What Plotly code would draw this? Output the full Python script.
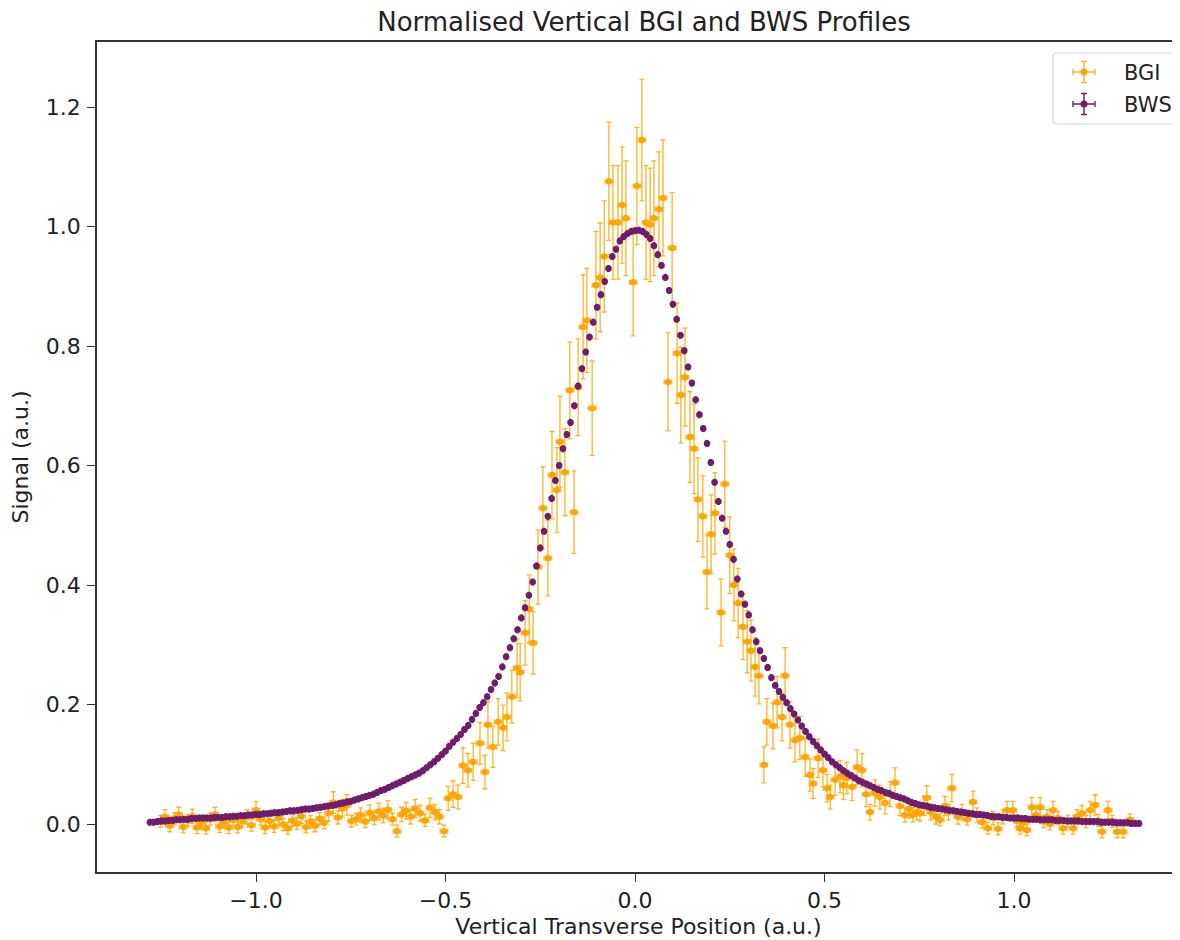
import plotly.graph_objects as go

# ---------------- data ----------------
BWS_X = [
    -1.28, -1.27, -1.26, -1.25, -1.24, -1.23, -1.22, -1.21, -1.20, -1.19,
    -1.18, -1.17, -1.16, -1.15, -1.14, -1.13, -1.12, -1.11, -1.10, -1.09,
    -1.08, -1.07, -1.06, -1.05, -1.04, -1.03, -1.02, -1.01, -1.00, -0.99,
    -0.98, -0.97, -0.96, -0.95, -0.94, -0.93, -0.92, -0.91, -0.90, -0.89,
    -0.88, -0.87, -0.86, -0.85, -0.84, -0.83, -0.82, -0.81, -0.80, -0.79,
    -0.78, -0.77, -0.76, -0.75, -0.74, -0.73, -0.72, -0.71, -0.70, -0.69,
    -0.68, -0.67, -0.66, -0.65, -0.64, -0.63, -0.62, -0.61, -0.60, -0.59,
    -0.58, -0.57, -0.56, -0.55, -0.54, -0.53, -0.52, -0.51, -0.50, -0.49,
    -0.48, -0.47, -0.46, -0.45, -0.44, -0.43, -0.42, -0.41, -0.40, -0.39,
    -0.38, -0.37, -0.36, -0.35, -0.34, -0.33, -0.32, -0.31, -0.30, -0.29,
    -0.28, -0.27, -0.26, -0.25, -0.24, -0.23, -0.22, -0.21, -0.20, -0.19,
    -0.18, -0.17, -0.16, -0.15, -0.14, -0.13, -0.12, -0.11, -0.10, -0.09,
    -0.08, -0.07, -0.06, -0.05, -0.04, -0.03, -0.02, -0.01,
    0.00, 0.01, 0.02, 0.03, 0.04, 0.05, 0.06, 0.07, 0.08, 0.09,
    0.10, 0.11, 0.12, 0.13, 0.14, 0.15, 0.16, 0.17, 0.18, 0.19,
    0.20, 0.21, 0.22, 0.23, 0.24, 0.25, 0.26, 0.27, 0.28, 0.29,
    0.30, 0.31, 0.32, 0.33, 0.34, 0.35, 0.36, 0.37, 0.38, 0.39,
    0.40, 0.41, 0.42, 0.43, 0.44, 0.45, 0.46, 0.47, 0.48, 0.49,
    0.50, 0.51, 0.52, 0.53, 0.54, 0.55, 0.56, 0.57, 0.58, 0.59,
    0.60, 0.61, 0.62, 0.63, 0.64, 0.65, 0.66, 0.67, 0.68, 0.69,
    0.70, 0.71, 0.72, 0.73, 0.74, 0.75, 0.76, 0.77, 0.78, 0.79,
    0.80, 0.81, 0.82, 0.83, 0.84, 0.85, 0.86, 0.87, 0.88, 0.89,
    0.90, 0.91, 0.92, 0.93, 0.94, 0.95, 0.96, 0.97, 0.98, 0.99,
    1.00, 1.01, 1.02, 1.03, 1.04, 1.05, 1.06, 1.07, 1.08, 1.09,
    1.10, 1.11, 1.12, 1.13, 1.14, 1.15, 1.16, 1.17, 1.18, 1.19,
    1.20, 1.21, 1.22, 1.23, 1.24, 1.25, 1.26, 1.27, 1.28, 1.29,
    1.30, 1.31, 1.32, 1.33,
]
BWS_Y = [
    0.003, 0.003, 0.004, 0.005, 0.005, 0.006, 0.006, 0.007, 0.007, 0.008,
    0.008, 0.009, 0.009, 0.010, 0.010, 0.010, 0.010, 0.011, 0.011, 0.011,
    0.012, 0.012, 0.013, 0.013, 0.014, 0.014, 0.015, 0.015, 0.016, 0.016,
    0.017, 0.017, 0.018, 0.019, 0.019, 0.020, 0.021, 0.022, 0.022, 0.023,
    0.024, 0.025, 0.025, 0.026, 0.027, 0.028, 0.029, 0.030, 0.031, 0.032,
    0.034, 0.035, 0.037, 0.038, 0.040, 0.042, 0.044, 0.046, 0.048, 0.050,
    0.053, 0.056, 0.058, 0.061, 0.064, 0.067, 0.070, 0.073, 0.076, 0.079,
    0.082, 0.085, 0.089, 0.094, 0.099, 0.104, 0.110, 0.116, 0.122, 0.130,
    0.137, 0.143, 0.150, 0.158, 0.165, 0.175, 0.185, 0.195, 0.203, 0.213,
    0.225, 0.236, 0.247, 0.263, 0.280, 0.295, 0.310, 0.325, 0.345, 0.362,
    0.383, 0.405, 0.432, 0.462, 0.490, 0.515, 0.545, 0.575, 0.600, 0.628,
    0.652, 0.672, 0.700, 0.733, 0.762, 0.790, 0.815, 0.840, 0.865, 0.886,
    0.908, 0.930, 0.950, 0.962, 0.976, 0.983, 0.988, 0.992,
    0.993, 0.994, 0.992, 0.987, 0.980, 0.968, 0.953, 0.935, 0.915, 0.893,
    0.870, 0.845, 0.818, 0.792, 0.765, 0.738, 0.710, 0.685, 0.662, 0.637,
    0.605, 0.572, 0.540, 0.512, 0.490, 0.468, 0.443, 0.410, 0.385, 0.368,
    0.350, 0.325, 0.305, 0.290, 0.277, 0.262, 0.245, 0.232, 0.222, 0.212,
    0.203, 0.193, 0.184, 0.174, 0.164, 0.155, 0.146, 0.138, 0.131, 0.124,
    0.117, 0.111, 0.104, 0.099, 0.094, 0.089, 0.085, 0.081, 0.077, 0.073,
    0.070, 0.067, 0.064, 0.061, 0.058, 0.056, 0.053, 0.051, 0.048, 0.046,
    0.044, 0.042, 0.039, 0.036, 0.034, 0.032, 0.031, 0.030, 0.028, 0.027,
    0.026, 0.025, 0.024, 0.023, 0.022, 0.021, 0.020, 0.019, 0.018, 0.017,
    0.016, 0.016, 0.015, 0.014, 0.013, 0.012, 0.012, 0.011, 0.011, 0.010,
    0.010, 0.010, 0.009, 0.009, 0.008, 0.008, 0.008, 0.007, 0.007, 0.007,
    0.007, 0.006, 0.006, 0.006, 0.005, 0.005, 0.005, 0.005, 0.004, 0.004,
    0.004, 0.004, 0.004, 0.003, 0.003, 0.003, 0.003, 0.002, 0.002, 0.002,
    0.002, 0.001, 0.001, 0.001,
]
BWS_YERR = 0.005
BWS_XERR = 0.006

BGI_X = [
    -1.252, -1.240, -1.228, -1.216, -1.204, -1.192, -1.180, -1.168, -1.156, -1.144,
    -1.132, -1.120, -1.108, -1.096, -1.084, -1.072, -1.060, -1.048, -1.036, -1.024,
    -1.012, -1.000, -0.988, -0.976, -0.964, -0.952, -0.940, -0.928, -0.916, -0.904,
    -0.892, -0.880, -0.868, -0.856, -0.844, -0.832, -0.820, -0.808, -0.796, -0.784,
    -0.772, -0.760, -0.748, -0.736, -0.724, -0.712, -0.700, -0.688, -0.676, -0.664,
    -0.652, -0.640, -0.628, -0.616, -0.604, -0.592, -0.580, -0.567, -0.554, -0.541,
    -0.528, -0.516, -0.504,
    -0.493, -0.480, -0.467, -0.454, -0.441, -0.427, -0.409, -0.396, -0.388, -0.375,
    -0.361, -0.348, -0.338, -0.325, -0.311, -0.303, -0.290, -0.279, -0.269, -0.256,
    -0.243, -0.230, -0.219, -0.206, -0.198, -0.185, -0.172, -0.161, -0.150, -0.137,
    -0.127, -0.113, -0.103, -0.092, -0.081, -0.069, -0.058, -0.045, -0.034, -0.024,
    -0.005,
    0.005, 0.018, 0.029, 0.040, 0.050, 0.063, 0.074, 0.087, 0.098, 0.111,
    0.121, 0.132, 0.145, 0.156, 0.166, 0.179, 0.190, 0.201, 0.211, 0.227,
    0.237, 0.250, 0.261, 0.272, 0.285, 0.296, 0.306, 0.317, 0.327, 0.340,
    0.348, 0.364, 0.375, 0.388, 0.396, 0.409, 0.422, 0.435, 0.449, 0.462,
    0.470, 0.483, 0.496,
    0.507, 0.515, 0.528, 0.541, 0.550, 0.559, 0.573, 0.586, 0.599, 0.610,
    0.620, 0.633, 0.646, 0.660, 0.673, 0.686, 0.699, 0.712, 0.723, 0.733,
    0.744, 0.752, 0.763, 0.770, 0.780, 0.794, 0.805, 0.818, 0.827, 0.836,
    0.852, 0.863, 0.876, 0.892, 0.902, 0.916, 0.931, 0.945, 0.958, 0.971,
    0.982, 0.997, 1.008, 1.016, 1.025, 1.034, 1.047, 1.058, 1.069, 1.078,
    1.087, 1.095, 1.103, 1.116, 1.129, 1.142, 1.156, 1.166, 1.179, 1.190,
    1.201, 1.214, 1.223, 1.232, 1.248, 1.259, 1.272, 1.288, 1.306,
]
BGI_Y = [
    0.004, 0.012, -0.003, 0.009, 0.016, -0.005, 0.006, 0.013, -0.006, 0.002,
    -0.007, 0.008, 0.016, -0.004, 0.003, -0.006, 0.007, -0.005, 0.004, 0.012,
    -0.002, 0.023, 0.008, -0.006, 0.005, -0.004, 0.010, -0.001, -0.007, 0.006,
    0.001, 0.013, -0.005, 0.004, -0.003, 0.009, 0.002, 0.018, 0.036, 0.011,
    0.026, 0.032, 0.005, 0.008, 0.015, 0.004, 0.019, 0.010, 0.021, 0.014,
    0.024, 0.008, -0.012, 0.016, 0.022, 0.012, 0.026, 0.018, 0.006, 0.027,
    0.020, 0.012, -0.012,
    0.043, 0.050, 0.045, 0.098, 0.090, 0.104, 0.135, 0.087, 0.166, 0.129,
    0.171, 0.161, 0.179, 0.213, 0.261, 0.254, 0.320, 0.360, 0.303, 0.430,
    0.529, 0.445, 0.584, 0.559, 0.640, 0.589, 0.726, 0.522, 0.731, 0.832,
    0.843, 0.696, 0.902, 0.915, 0.950, 1.076, 1.007, 1.007, 1.036, 1.014,
    0.907,
    1.068, 1.145, 1.007, 1.003, 1.014, 1.029, 1.048, 0.740, 0.964, 0.788,
    0.718, 0.748, 0.648, 0.628, 0.543, 0.515, 0.422, 0.485, 0.520, 0.354,
    0.569, 0.450, 0.400, 0.370, 0.330, 0.305, 0.290, 0.263, 0.248, 0.099,
    0.171, 0.164, 0.204, 0.179, 0.248, 0.166, 0.140, 0.144, 0.112, 0.082,
    0.068, 0.110, 0.090,
    0.060, 0.045, 0.074, 0.079, 0.065, 0.077, 0.062, 0.095, 0.090, 0.050,
    0.020, 0.052, 0.045, 0.035, 0.050, 0.069, 0.030, 0.015, 0.025, 0.015,
    0.020, 0.018, 0.030, 0.044, 0.020, 0.012, 0.007, 0.030, 0.020, 0.060,
    0.012, 0.020, 0.008, 0.037, 0.015, 0.003, -0.007, 0.010, -0.008, 0.012,
    0.023, 0.023, 0.005, -0.007, 0.002, -0.010, 0.028, 0.015, 0.028, 0.004,
    0.012, 0.000, 0.023, 0.010, -0.007, 0.005, -0.007, 0.012, 0.018, 0.004,
    0.023, 0.032, 0.006, -0.013, 0.023, 0.005, -0.013, -0.013, 0.007,
]
BGI_YERR = [
    0.010, 0.012, 0.010, 0.010, 0.012, 0.010, 0.010, 0.012, 0.010, 0.010,
    0.010, 0.010, 0.012, 0.010, 0.010, 0.010, 0.010, 0.010, 0.010, 0.012,
    0.010, 0.015, 0.010, 0.010, 0.010, 0.010, 0.011, 0.010, 0.010, 0.010,
    0.010, 0.012, 0.010, 0.010, 0.010, 0.010, 0.010, 0.013, 0.018, 0.011,
    0.015, 0.017, 0.010, 0.010, 0.012, 0.010, 0.013, 0.011, 0.014, 0.012,
    0.015, 0.010, 0.010, 0.012, 0.014, 0.012, 0.015, 0.013, 0.010, 0.016,
    0.013, 0.012, 0.010,
    0.020, 0.022, 0.020, 0.030, 0.028, 0.031, 0.035, 0.028, 0.039, 0.034,
    0.039, 0.038, 0.040, 0.044, 0.049, 0.048, 0.054, 0.057, 0.052, 0.062,
    0.069, 0.063, 0.073, 0.071, 0.076, 0.073, 0.081, 0.069, 0.081, 0.087,
    0.087, 0.079, 0.090, 0.091, 0.093, 0.099, 0.095, 0.095, 0.097, 0.096,
    0.090,
    0.098, 0.102, 0.095, 0.095, 0.096, 0.096, 0.097, 0.082, 0.093, 0.084,
    0.080, 0.082, 0.076, 0.075, 0.070, 0.068, 0.062, 0.066, 0.068, 0.056,
    0.072, 0.064, 0.060, 0.058, 0.055, 0.052, 0.051, 0.049, 0.047, 0.030,
    0.039, 0.038, 0.043, 0.040, 0.047, 0.039, 0.036, 0.036, 0.032, 0.027,
    0.025, 0.032, 0.028,
    0.023, 0.020, 0.026, 0.027, 0.024, 0.026, 0.023, 0.029, 0.028, 0.021,
    0.013, 0.022, 0.020, 0.018, 0.021, 0.025, 0.016, 0.012, 0.015, 0.012,
    0.013, 0.013, 0.016, 0.020, 0.013, 0.012, 0.010, 0.016, 0.013, 0.023,
    0.012, 0.013, 0.010, 0.018, 0.012, 0.010, 0.010, 0.011, 0.010, 0.012,
    0.015, 0.015, 0.010, 0.010, 0.010, 0.010, 0.016, 0.012, 0.016, 0.010,
    0.012, 0.010, 0.015, 0.011, 0.010, 0.010, 0.010, 0.012, 0.013, 0.010,
    0.015, 0.017, 0.010, 0.010, 0.015, 0.010, 0.010, 0.010, 0.010,
]
BGI_XERR = 0.010

SERIES_NAMES = ["BGI", "BWS"]
X_TICKS = [-1.0, -0.5, 0.0, 0.5, 1.0]
X_TICK_TEXT = ["\u22121.0", "\u22120.5", "0.0", "0.5", "1.0"]
Y_TICKS = [0.0, 0.2, 0.4, 0.6, 0.8, 1.0, 1.2]
Y_TICK_TEXT = ["0.0", "0.2", "0.4", "0.6", "0.8", "1.0", "1.2"]

assert len(BWS_X) == len(BWS_Y)
assert len(BGI_X) == len(BGI_Y) == len(BGI_YERR)

ORANGE = "#FFA500"
ORANGE_BAR = "rgba(255,165,0,0.85)"
PURPLE = "#701C6C"
FONT = "DejaVu Sans"
TXT = "#222222"

# Page geometry (the page body has an 8px margin)
PAGE_OFF = 8
FIG_W, FIG_H = 1172, 932
PLOT_L, PLOT_T, PLOT_B = 97, 42, 872
PLOT_R = PAGE_OFF + FIG_W

fig = go.Figure()
fig.add_trace(go.Scatter(
    x=BGI_X, y=BGI_Y, mode="markers", name=SERIES_NAMES[0], showlegend=False,
    marker=dict(color=ORANGE, size=6.5, line=dict(width=0)),
    error_y=dict(type="data", array=BGI_YERR, visible=True,
                 color=ORANGE_BAR, thickness=1.3, width=2.5),
    error_x=dict(type="constant", value=BGI_XERR, visible=True,
                 color=ORANGE_BAR, thickness=1.3, width=2.5),
))
fig.add_trace(go.Scatter(
    x=BWS_X, y=BWS_Y, mode="markers", name=SERIES_NAMES[1], showlegend=False,
    marker=dict(color=PURPLE, size=6.5, line=dict(width=0)),
    error_y=dict(type="constant", value=BWS_YERR, visible=True,
                 color=PURPLE, thickness=1, width=1.5),
    error_x=dict(type="constant", value=BWS_XERR, visible=True,
                 color=PURPLE, thickness=1, width=1.5),
))

# ---- legend drawn on an overlay axis measured in page pixels ----
LEG_GLYPH_X = 1084
LEG_TEXT_X = 1122
LEG_ROWS_Y = [72, 104]
LEG_BOX = (1053, 53, 1190, 124)
for name, col, bar, yy in zip(SERIES_NAMES, [ORANGE, PURPLE], [ORANGE_BAR, PURPLE], LEG_ROWS_Y):
    fig.add_trace(go.Scatter(
        x=[LEG_GLYPH_X], y=[yy], xaxis="x2", yaxis="y2", mode="markers",
        showlegend=False, hoverinfo="skip",
        marker=dict(color=col, size=7, line=dict(width=0)),
        error_x=dict(type="constant", value=11, color=bar, thickness=1.4, width=3),
        error_y=dict(type="constant", value=10.5, color=bar, thickness=1.4, width=3),
    ))
    fig.add_annotation(x=LEG_TEXT_X, y=yy + 1, xref="x2", yref="y2", text=name,
                       showarrow=False, xanchor="left", yanchor="middle",
                       font=dict(family=FONT, size=21, color=TXT))

x0, y0, x1, y1 = LEG_BOX
r = 4
box_path = (f"M {x0+r},{y0} L {x1-r},{y0} Q {x1},{y0} {x1},{y0+r} "
            f"L {x1},{y1-r} Q {x1},{y1} {x1-r},{y1} L {x0+r},{y1} "
            f"Q {x0},{y1} {x0},{y1-r} L {x0},{y0+r} Q {x0},{y0} {x0+r},{y0} Z")
fig.add_shape(type="path", path=box_path, xref="x2", yref="y2",
              line=dict(color="#d4d4d4", width=1.2),
              fillcolor="rgba(255,255,255,0.8)", layer="below")

axis_common = dict(
    showgrid=False, zeroline=False, showline=True,
    linecolor="#333333", linewidth=1.5,
    ticks="outside", ticklen=8, tickwidth=1.3, tickcolor="#333333",
    tickfont=dict(family=FONT, size=22, color=TXT),
    automargin=False,
)

x_per_px = 1.0 / 379.0
x0_px = 635.0
y_per_px = 1.0 / 597.4
y0_px = 824.0

fig.update_layout(
    width=FIG_W, height=FIG_H,
    paper_bgcolor="white", plot_bgcolor="white",
    margin=dict(l=PLOT_L - PAGE_OFF, r=0, t=PLOT_T - PAGE_OFF,
                b=PAGE_OFF + FIG_H - PLOT_B, pad=0),
    font=dict(family=FONT, color=TXT),
    title=dict(text="Normalised Vertical BGI and BWS Profiles",
               xref="container", x=(644 - PAGE_OFF) / FIG_W, xanchor="center",
               yref="container", y=1 - (22 - PAGE_OFF) / FIG_H, yanchor="middle",
               font=dict(family=FONT, size=26, color=TXT)),
    xaxis=dict(range=[(PLOT_L - x0_px) * x_per_px, (PLOT_R - x0_px) * x_per_px],
               tickvals=X_TICKS, ticktext=X_TICK_TEXT, mirror=True,
               title=dict(text="Vertical Transverse Position (a.u.)",
                          font=dict(family=FONT, size=22, color=TXT),
                          standoff=6),
               **axis_common),
    yaxis=dict(range=[(y0_px - PLOT_B) * y_per_px, (y0_px - PLOT_T) * y_per_px],
               tickvals=Y_TICKS, ticktext=Y_TICK_TEXT, ticklabelstandoff=2,
               mirror=False,
               title=dict(text="Signal (a.u.)",
                          font=dict(family=FONT, size=22, color=TXT),
                          standoff=11),
               **axis_common),
    xaxis2=dict(overlaying="x", range=[PLOT_L, PLOT_R], visible=False,
                fixedrange=True),
    yaxis2=dict(overlaying="y", range=[PLOT_B, PLOT_T], visible=False,
                fixedrange=True),
    showlegend=False,
)

fig.write_html("out.html")
